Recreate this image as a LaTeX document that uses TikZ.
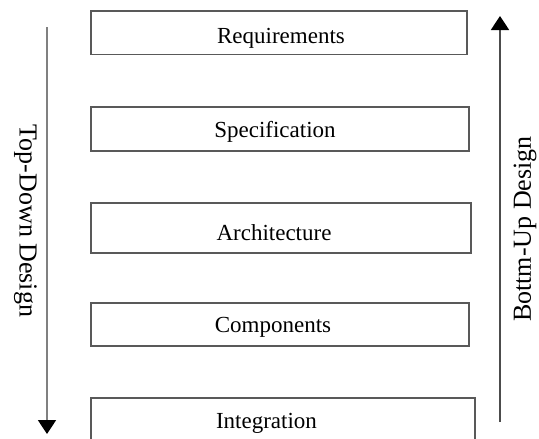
\documentclass[tikz,border=0pt]{standalone}
\usepackage{fontspec}
\setmainfont{Liberation Serif}
\usetikzlibrary{arrows.meta}
\begin{document}
\begin{tikzpicture}[x=1pt,y=-1pt,
  stage/.style={draw=black!65, line width=1.6pt, inner sep=0pt, anchor=north west},
  stagetext/.style={anchor=base, inner sep=0pt, font=\fontsize{23}{26}\selectfont},
  side/.style={font=\fontsize{26}{30}\selectfont, inner sep=0pt},
  flow/.style={line width=1.8pt, -{Triangle[width=18pt,length=14pt,color=black]}}]
\useasboundingbox (0,0) rectangle (539,439);
\clip (0,0) rectangle (539,439);
\node[stage, minimum width=376pt, minimum height=43.5pt] (req) at (90,10) {};
\node[stagetext] (reqt) at (281,43) {Requirements};
\node[stage, minimum width=378pt, minimum height=44pt] (spec) at (90,106) {};
\node[stagetext] (spect) at (275,137) {Specification};
\node[stage, minimum width=380pt, minimum height=50pt] (arch) at (90,202) {};
\node[stagetext] (archt) at (274,240) {Architecture};
\node[stage, minimum width=378pt, minimum height=43pt] (comp) at (90,302) {};
\node[stagetext] (compt) at (273,332) {Components};
\node[stage, minimum width=384pt, minimum height=53pt] (integ) at (90,397) {};
\node[stagetext] (integt) at (266.5,428) {Integration};
\coordinate (tdA) at (47,27);
\coordinate (tdB) at (47,434);
\coordinate (buA) at (500,422);
\coordinate (buB) at (500,16);
\draw[flow, draw=black!50] (tdA) -- (tdB);
\draw[flow, draw=black!70] (buA) -- (buB);
\node[side, rotate=-90] (tdl) at (25.5,221) {Top-Down Design};
\node[side, rotate=90] (bul) at (525,229) {Bottm-Up Design};
\end{tikzpicture}
\end{document}
